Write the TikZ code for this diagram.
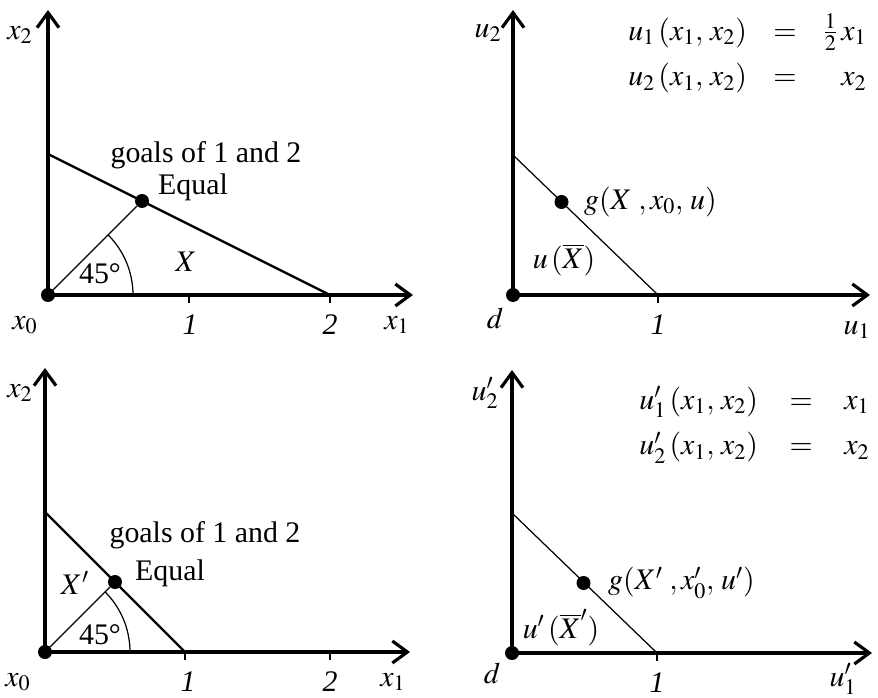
\documentclass[tikz,border=0pt]{standalone}
\usepackage{mathptmx}
\usepackage{fontspec}
\setmainfont{Liberation Serif}
\usetikzlibrary{arrows.meta}

\begin{document}
\begin{tikzpicture}[>={Straight Barb[length=3mm,width=4.4mm]},font=\fontsize{17}{20}\selectfont]
\tikzstyle{axis}=[line width=1.8pt,->]
\tikzstyle{budget}=[line width=1.3pt]
\tikzstyle{ray}=[line width=0.7pt]
\tikzstyle{dot}=[circle,fill,inner sep=0pt,minimum size=2.8mm]
\tikzstyle{utilbox}=[anchor=east,inner sep=0pt]
\useasboundingbox (0,0) rectangle (17.56,13.94);

% top left: goods, X
\begin{scope}[shift={(0.96,8.04)}]
\node[dot] (o1) at (0,0) {};
\coordinate (y1) at (0,5.7);
\coordinate (x1) at (7.3,0);
\coordinate (a1) at (0,2.82);
\coordinate (b1) at (5.64,0);
\node[dot] (e1) at (1.88,1.88) {};
\draw[axis] (o1.center) -- (y1);
\draw[axis] (o1.center) -- (x1);
\draw[budget] (a1) -- (b1);
\draw[ray] (o1.center) -- (e1);
\draw[ray] (1.7,0) arc (0:45:1.7);
\draw[ray] (2.82,0) -- ++(0,-0.16);
\draw[ray] (5.64,0) -- ++(0,-0.16);
\node (lx2) at (-0.56,5.2) {$x_2$};
\node (lx0) at (-0.46,-0.6) {$x_0$};
\node (t11) at (2.84,-0.6) {\textit{1}};
\node (t12) at (5.64,-0.6) {\textit{2}};
\node (lx1) at (6.98,-0.6) {$x_1$};
\node (goal1) at (3.16,2.8) {goals of 1 and 2};
\node (eq1) at (2.9,2.16) {Equal};
\node (set1) at (2.76,0.66) {$X$};
\node (ang1) at (1.04,0.42) {45°};
\end{scope}

% top right: utilities u
\begin{scope}[shift={(10.26,8.04)}]
\node[dot] (o2) at (0,0) {};
\coordinate (y2) at (0,5.7);
\coordinate (x2) at (7.14,0);
\coordinate (a2) at (0,2.8);
\coordinate (b2) at (2.9,0);
\node[dot] (e2) at (0.97,1.86) {};
\draw[axis] (o2.center) -- (y2);
\draw[axis] (o2.center) -- (x2);
\draw[ray] (a2) -- (b2);
\draw[ray] (2.9,0) -- ++(0,-0.16);
\node (lu2) at (-0.5,5.24) {$u_2$};
\node (ld2) at (-0.36,-0.46) {$d$};
\node (t21) at (2.9,-0.6) {\textit{1}};
\node (lu1) at (6.88,-0.7) {$u_1$};
\node[anchor=west] (g2) at (1.3,1.86) {$g(X\;,x_0,\,u)$};
\node (set2) at (1.02,0.7) {$u\,(\overline{X})$};
\end{scope}
\node[utilbox] (util1) at (17.34,12.84)
  {$\arraycolsep=7.5pt\begin{array}{@{}rcr@{}} u_1\,(x_1,\,x_2) & = & \frac12\,x_1\\[6pt] u_2\,(x_1,\,x_2) & = & x_2\end{array}$};

% bottom left: goods, X'
\begin{scope}[shift={(0.9,0.9)}]
\node[dot] (o3) at (0,0) {};
\coordinate (y3) at (0,5.68);
\coordinate (x3) at (7.3,0);
\coordinate (a3) at (0,2.8);
\coordinate (b3) at (2.8,0);
\node[dot] (e3) at (1.4,1.4) {};
\draw[axis] (o3.center) -- (y3);
\draw[axis] (o3.center) -- (x3);
\draw[budget] (a3) -- (b3);
\draw[ray] (o3.center) -- (e3);
\draw[ray] (1.7,0) arc (0:45:1.7);
\draw[ray] (2.8,0) -- ++(0,-0.16);
\draw[ray] (5.7,0) -- ++(0,-0.16);
\node (lx32) at (-0.5,5.18) {$x_2$};
\node (lx30) at (-0.54,-0.6) {$x_0$};
\node (t31) at (2.86,-0.6) {\textit{1}};
\node (t32) at (5.7,-0.6) {\textit{2}};
\node (lx31) at (6.96,-0.6) {$x_1$};
\node (goal3) at (3.2,2.34) {goals of 1 and 2};
\node (eq3) at (2.5,1.58) {Equal};
\node (set3) at (0.6,1.38) {$X'$};
\node (ang3) at (1.1,0.34) {45°};
\end{scope}

% bottom right: utilities u'
\begin{scope}[shift={(10.24,0.88)}]
\node[dot] (o4) at (0,0) {};
\coordinate (y4) at (0,5.66);
\coordinate (x4) at (7.2,0);
\coordinate (a4) at (0,2.8);
\coordinate (b4) at (2.9,0);
\node[dot] (e4) at (1.43,1.4) {};
\draw[axis] (o4.center) -- (y4);
\draw[axis] (o4.center) -- (x4);
\draw[ray] (a4) -- (b4);
\draw[ray] (2.9,0) -- ++(0,-0.16);
\node (lu42) at (-0.54,5.2) {$u'_2$};
\node (ld4) at (-0.4,-0.4) {$d$};
\node (t41) at (2.9,-0.6) {\textit{1}};
\node (lu41) at (6.62,-0.52) {$u'_1$};
\node[anchor=west] (g4) at (1.8,1.4) {$g(X'\;,x'_0,\,u')$};
\node (set4) at (0.98,0.5) {$u'\,(\overline{X}')$};
\end{scope}
\node[utilbox] (util2) at (17.4,5.44)
  {$\arraycolsep=9pt\begin{array}{@{}rcl@{}} u'_1\,(x_1,\,x_2) & = & x_1\\[6pt] u'_2\,(x_1,\,x_2) & = & x_2\end{array}$};
\end{tikzpicture}
\end{document}
